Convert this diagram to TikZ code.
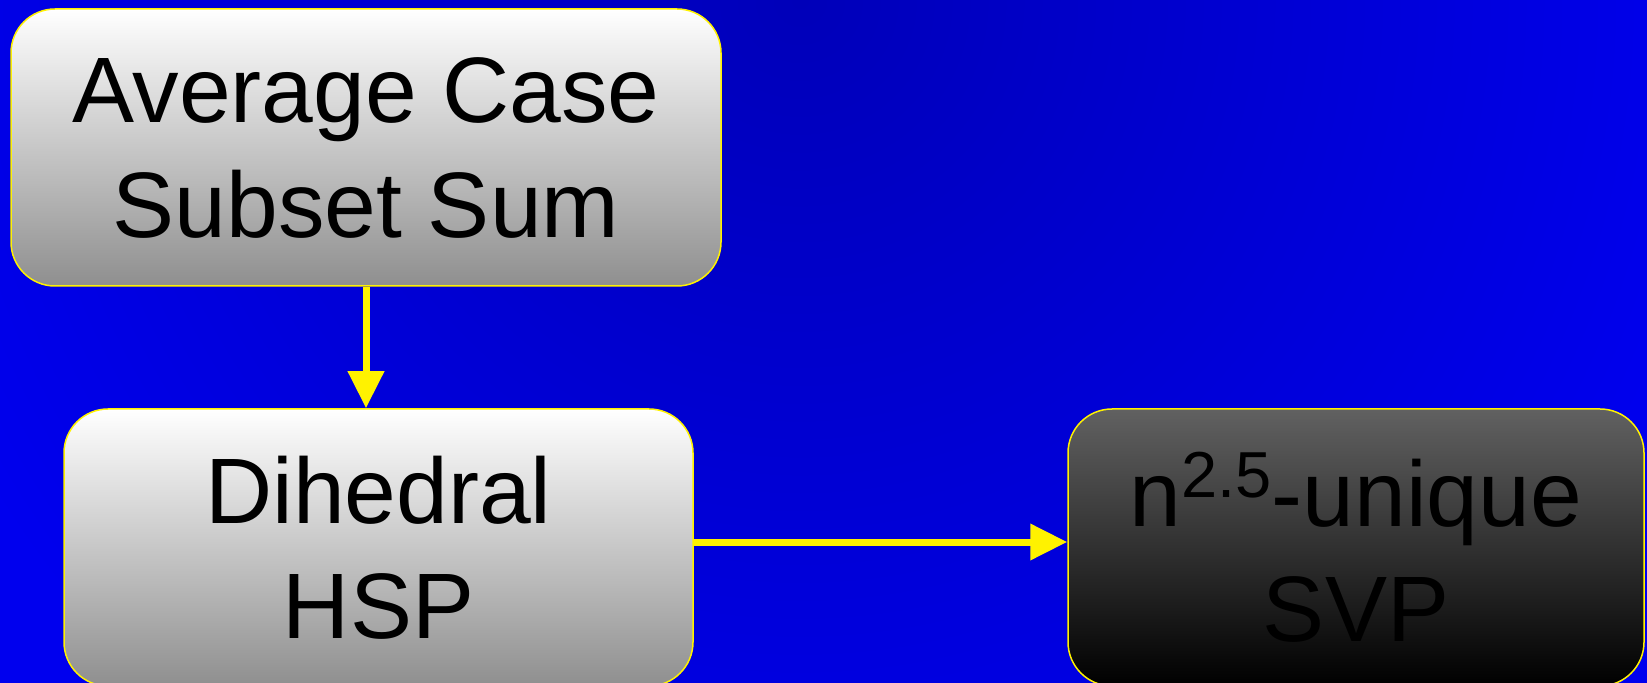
\documentclass[tikz,border=0pt]{standalone}
\usepackage{fontspec}
\setmainfont{Liberation Sans}
\usetikzlibrary{arrows.meta}

\definecolor{bgblue}{RGB}{0,0,238}
\definecolor{bgdark}{RGB}{0,0,185}

\tikzset{
	slab/.style={draw=yellow, line width=0.75pt, rounded corners=22pt,
		minimum height=138.5pt, inner sep=0pt, align=center, text=black,
		font=\fontsize{46.5pt}{57.5pt}\selectfont},
	lightslab/.style={slab, top color=white, bottom color=black!44},
	darkslab/.style={slab, top color=black!62, bottom color=black},
	link/.style={draw=yellow, line width=3.5pt,
		-{Triangle[length=18.5pt,width=17.5pt]}}
}

\begin{document}
\begin{tikzpicture}[x=0.5pt, y=-0.5pt]
	\useasboundingbox (0,0) rectangle (1647,683);

	% background
	\fill[bgblue] (0,0) rectangle (1647,683);
	\begin{scope}
		\clip (0,0) rectangle (1647,683);
		\shade[inner color=bgdark, outer color=bgblue] (800,0) circle (950);
	\end{scope}

	\node[lightslab, minimum width=355pt] (subsum) at (366,147.5) {Average Case\\Subset Sum};
	\node[lightslab, minimum width=314.5pt] (dhsp) at (378.5,547.5) {Dihedral\\HSP};
	\node[darkslab, minimum width=288pt] (usvp) at (1356,547.5)
		{n\raisebox{14.5pt}{\fontsize{32.5pt}{34pt}\selectfont 2.5}-unique\\SVP};

	\draw[link] (subsum.south) -- (subsum.south |- dhsp.north);
	\draw[link] ([yshift=2.75pt]dhsp.east) -- ([yshift=2.75pt]usvp.west);
\end{tikzpicture}
\end{document}
